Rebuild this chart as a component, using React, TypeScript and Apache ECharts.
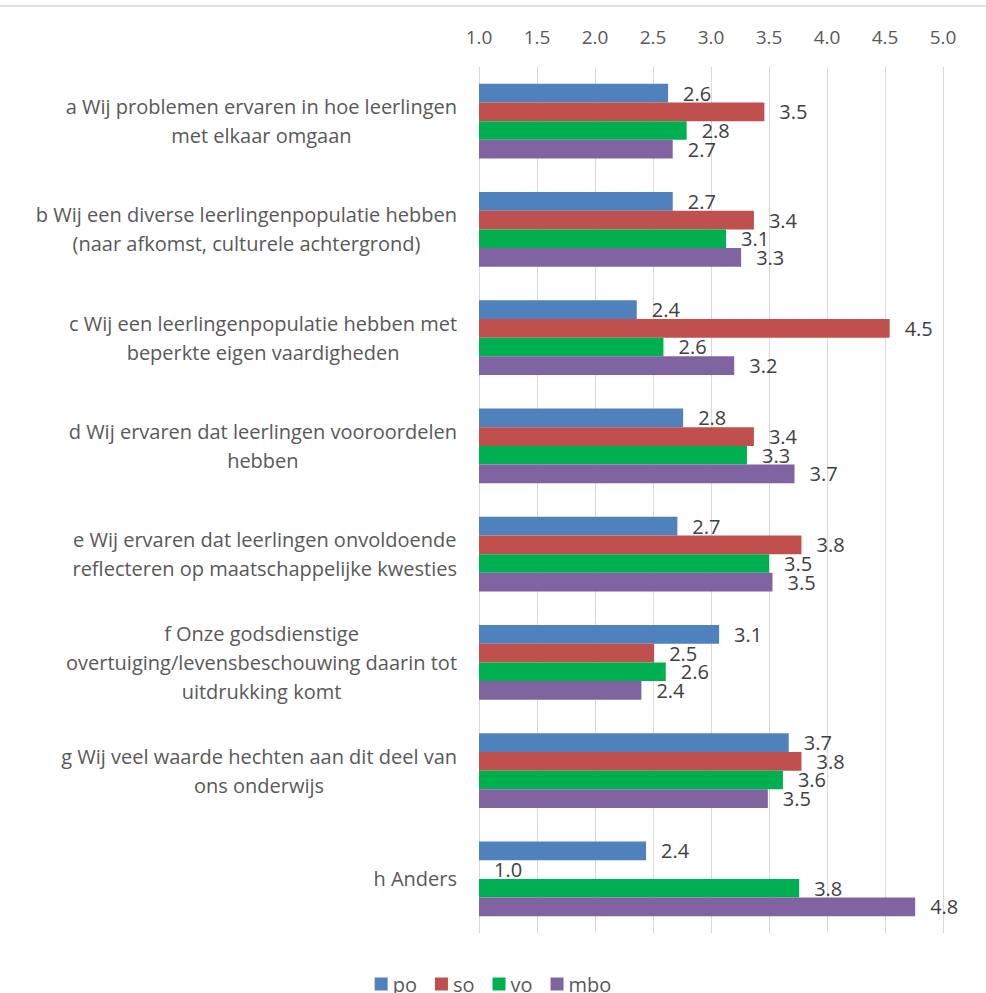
import React, { useEffect, useRef } from "react";
import * as echarts from "echarts";

const categories: string[] = [
  "a Wij problemen ervaren in hoe leerlingen\nmet elkaar omgaan",
  "b Wij een diverse leerlingenpopulatie hebben\n(naar afkomst, culturele achtergrond)",
  "c Wij een leerlingenpopulatie hebben met\nbeperkte eigen vaardigheden",
  "d Wij ervaren dat leerlingen vooroordelen\nhebben",
  "e Wij ervaren dat leerlingen onvoldoende\nreflecteren op maatschappelijke kwesties",
  "f Onze godsdienstige\novertuiging/levensbeschouwing daarin tot\nuitdrukking komt",
  "g Wij veel waarde hechten aan dit deel van\nons onderwijs",
  "h Anders",
];

const seriesNames: string[] = ["po", "so", "vo", "mbo"];
const po: number[] = [2.63, 2.67, 2.36, 2.76, 2.71, 3.07, 3.67, 2.44];
const so: number[] = [3.46, 3.37, 4.54, 3.37, 3.78, 2.51, 3.78, 1.0];
const vo: number[] = [2.79, 3.13, 2.59, 3.31, 3.5, 2.61, 3.62, 3.76];
const mbo: number[] = [2.67, 3.26, 3.2, 3.72, 3.53, 2.4, 3.49, 4.76];
const xTicks = { min: 1, max: 5, interval: 0.5 };

const colors = ["#4F81BD", "#C0504D", "#00B050", "#8064A2"];
const FONT = "'Open Sans', 'Noto Sans', sans-serif";

export default function App() {
  const ref = useRef<HTMLDivElement>(null);
  useEffect(() => {
    if (!ref.current) return;
    const chart = echarts.init(ref.current, null, { renderer: "svg" });
    const data = [po, so, vo, mbo];
    chart.setOption({
      animation: false,
      color: colors,
      textStyle: { fontFamily: FONT },
      grid: { left: 479, right: 43, top: 67, bottom: 60, containLabel: false },
      graphic: [
        {
          type: "line",
          shape: { x1: 0, y1: 6, x2: 986, y2: 6 },
          style: { stroke: "#d9d9d9", lineWidth: 1.5 },
        },
      ],
      legend: {
        data: seriesNames,
        left: "center",
        top: 969,
        icon: "rect",
        itemWidth: 13,
        itemHeight: 13,
        itemGap: 18,
        textStyle: { fontSize: 20, color: "#595959", fontFamily: FONT },
      },
      xAxis: {
        type: "value",
        position: "top",
        min: xTicks.min,
        max: xTicks.max,
        interval: xTicks.interval,
        startValue: xTicks.min,
        axisLine: { show: false },
        axisTick: { show: false },
        splitLine: { show: true, lineStyle: { color: "#d9d9d9", width: 1 } },
        axisLabel: {
          formatter: (v: number) => v.toFixed(1),
          fontSize: 19,
          color: "#595959",
          margin: 21,
          fontFamily: FONT,
        },
      },
      yAxis: {
        type: "category",
        data: categories,
        inverse: true,
        axisLine: { show: false },
        axisTick: { show: false },
        axisLabel: {
          interval: 0,
          margin: 22,
          formatter: (v: string) =>
            v
              .split("\n")
              .map((l) => `{c|${l}}`)
              .join("\n"),
          rich: {
            c: {
              align: "center",
              fontSize: 20,
              lineHeight: 29,
              color: "#595959",
              fontFamily: FONT,
            },
          },
        },
      },
      series: seriesNames.map((name, i) => ({
        name,
        type: "bar",
        data: data[i],
        barGap: "0%",
        barCategoryGap: "31%",
        itemStyle: { color: colors[i] },
        label: {
          show: true,
          position: "right",
          distance: 15,
          formatter: (p: any) => Number(p.value).toFixed(1),
          fontSize: 20,
          color: "#404040",
          fontFamily: FONT,
        },
      })),
    });
    return () => chart.dispose();
  }, []);
  return (
    <div
      ref={ref}
      style={{ position: "fixed", left: 0, top: 0, width: 986, height: 993, background: "#fff" }}
    />
  );
}
